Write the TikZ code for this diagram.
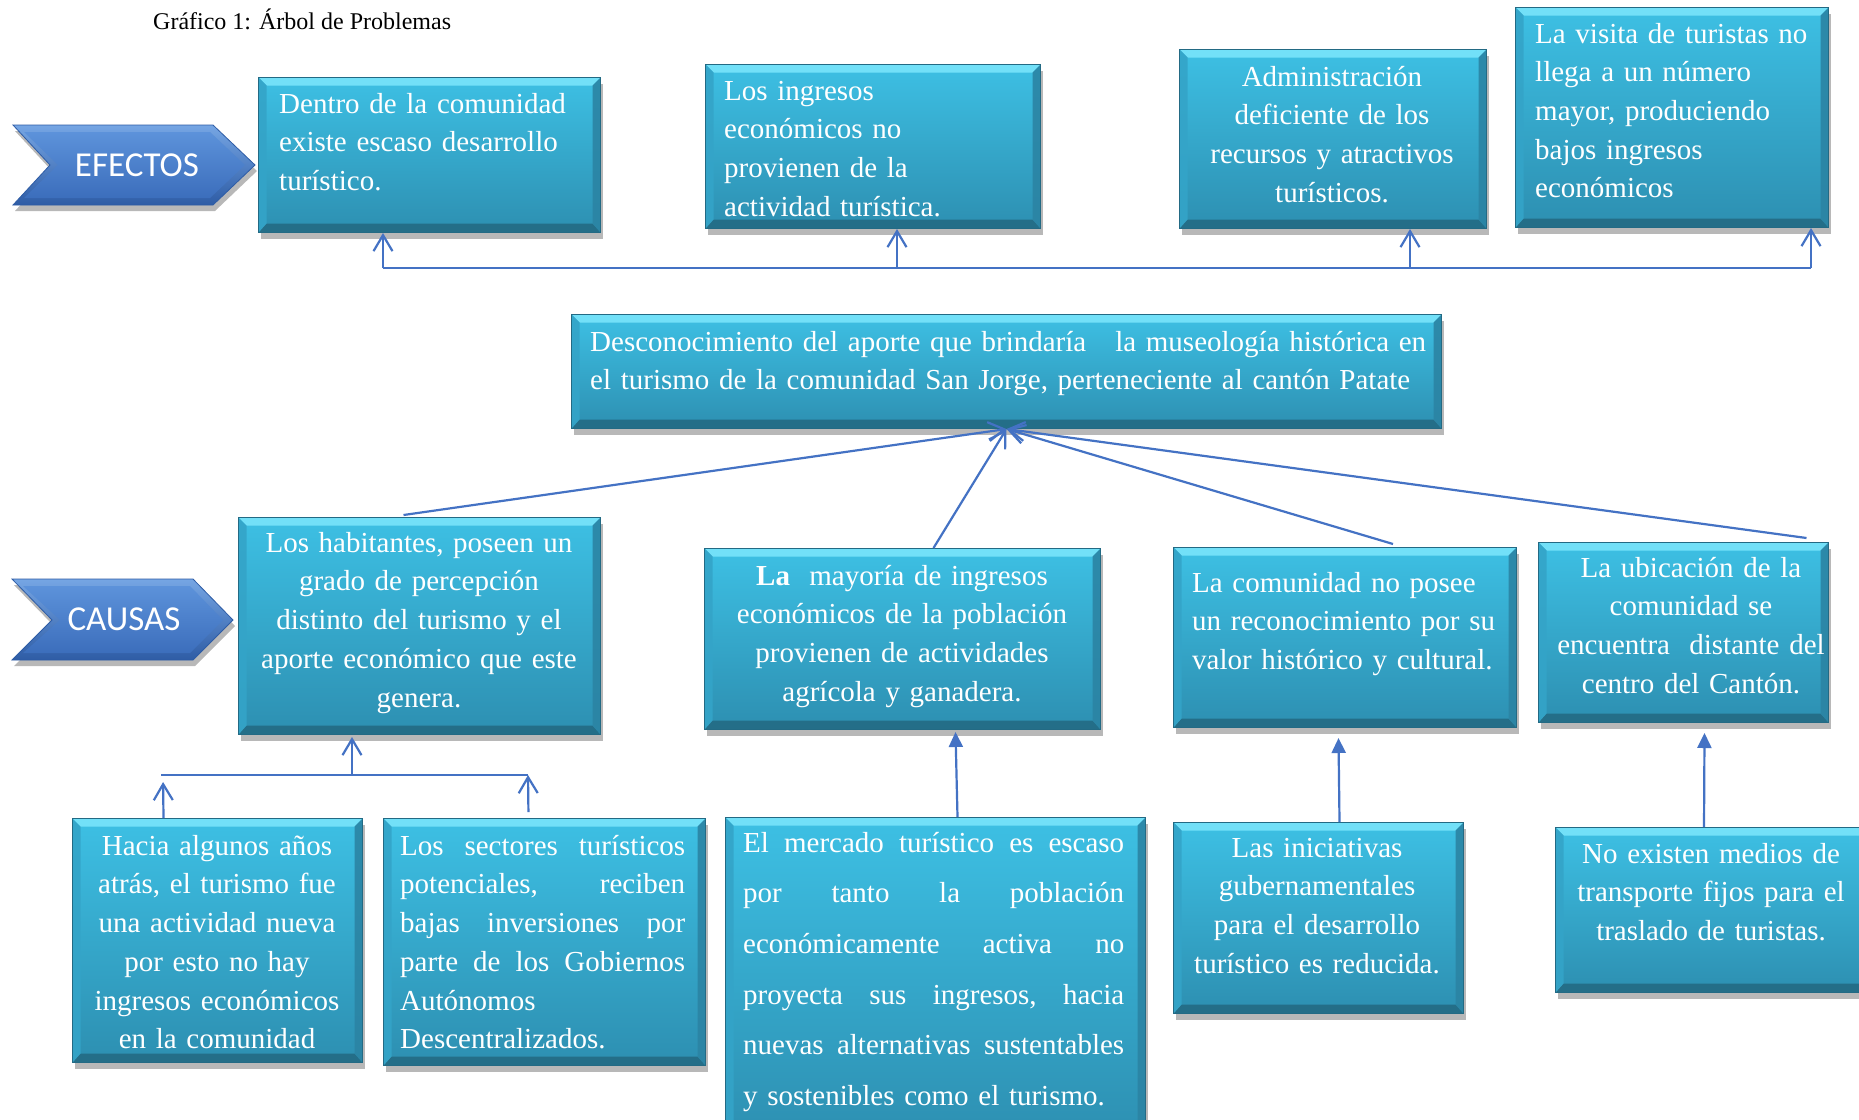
\documentclass[tikz,border=0pt]{standalone}
\usepackage{fontspec}
\setmainfont{Liberation Serif}
\newfontfamily\chevfont{Carlito}
\usetikzlibrary{arrows.meta,shadows,calc}
\definecolor{facetop}{HTML}{3DC0E4}
\definecolor{facebot}{HTML}{2D8FB1}
\definecolor{bevtop}{HTML}{72E0F8}
\definecolor{bevbot}{HTML}{246E88}
\definecolor{bevleft}{HTML}{34A4C8}
\definecolor{bevright}{HTML}{2B84A4}
\definecolor{boxedge}{HTML}{236A84}
\definecolor{connc}{HTML}{4472C4}
\definecolor{chevtop}{HTML}{76A6E4}
\definecolor{chevbot}{HTML}{2E5CA5}
\definecolor{chevfacetop}{HTML}{5C92DA}
\definecolor{chevfacebot}{HTML}{3C6EBC}
\tikzset{
  tbox/.style={rectangle, inner sep=0pt, draw=boxedge, line width=1pt,
    top color=facetop, bottom color=facebot,
    drop shadow={shadow xshift=2pt, shadow yshift=-6pt, opacity=0.28, fill=black},
    path picture={
      \fill[bevtop] (path picture bounding box.north west) -- (path picture bounding box.north east)
        -- ([xshift=-8pt,yshift=-8pt]path picture bounding box.north east)
        -- ([xshift=8pt,yshift=-8pt]path picture bounding box.north west) -- cycle;
      \fill[bevbot] (path picture bounding box.south west) -- (path picture bounding box.south east)
        -- ([xshift=-8pt,yshift=9pt]path picture bounding box.south east)
        -- ([xshift=8pt,yshift=9pt]path picture bounding box.south west) -- cycle;
      \fill[bevleft, opacity=0.9] (path picture bounding box.north west)
        -- ([xshift=8pt,yshift=-8pt]path picture bounding box.north west)
        -- ([xshift=8pt,yshift=9pt]path picture bounding box.south west)
        -- (path picture bounding box.south west) -- cycle;
      \fill[bevright, opacity=0.9] (path picture bounding box.north east)
        -- ([xshift=-8pt,yshift=-8pt]path picture bounding box.north east)
        -- ([xshift=-8pt,yshift=9pt]path picture bounding box.south east)
        -- (path picture bounding box.south east) -- cycle;
    }},
  btxt/.style={text=white, inner sep=0pt, font=\fontsize{29pt}{38.7pt}\selectfont},
  chev/.style={draw=chevbot, line width=0.8pt, top color=chevtop, bottom color=chevbot,
    drop shadow={shadow xshift=2pt, shadow yshift=-6pt, opacity=0.28, fill=black}},
  chevface/.style={top color=chevfacetop, bottom color=chevfacebot},
  chevtxt/.style={text=white, inner sep=0pt, font=\chevfont\fontsize{35pt}{40pt}\selectfont},
  conn/.style={draw=connc, line width=2.2pt},
  openarr/.style={conn, -{Straight Barb[length=16pt,width=19pt]}},
  fillarr/.style={conn, -{Triangle[length=15pt,width=14pt]}},
}
\newcommand\drawbox[5]{\node[tbox, anchor=north west, minimum width={(#4-#2)*1pt}, minimum height={(#5-#3)*1pt}] (#1) at (#2,#3) {};}
\newcommand\jline[2]{\makebox[#1][s]{#2}}
\begin{document}
\begin{tikzpicture}[x=1pt,y=-1pt]
\useasboundingbox (0,0) rectangle (1859,1119);
\fill[white] (0,0) rectangle (1859,1119);
\clip (0,0) rectangle (1859,1119);

% title
\node[anchor=base west, inner sep=0pt, font=\fontsize{24pt}{28pt}\selectfont] (title) at (153,29) {Gráfico 1: Árbol de Problemas};

% chevrons
\path[chev] (13,125) -- (213,125) -- (255,165) -- (213,205) -- (13,205) -- (50,165) -- cycle;
\path[chevface] (24,132) -- (210,132) -- (245,165) -- (210,198) -- (24,198) -- (58,165) -- cycle;
\node[chevtxt] (efectos) at (137,165) {EFECTOS};
\path[chev] (12,579) -- (193,579) -- (233,620) -- (193,660) -- (12,660) -- (52,620) -- cycle;
\path[chevface] (23,586) -- (190,586) -- (223,620) -- (190,653) -- (23,653) -- (60,620) -- cycle;
\node[chevtxt] (causas) at (124,619) {CAUSAS};

% effect boxes
\drawbox{b1}{258}{77}{600}{232}
\drawbox{b2}{705}{64}{1040}{228}
\drawbox{b3}{1179}{49}{1486}{228}
\drawbox{b4}{1515}{7}{1828}{227}
% central problem
\drawbox{top}{571}{314}{1441}{428}
% causes
\drawbox{c1}{238}{517}{600}{734}
\drawbox{c2}{704}{548}{1100}{729}
\drawbox{c3}{1173}{547}{1516}{727}
\drawbox{c4}{1538}{542}{1828}{722}
% sub-causes
\drawbox{d1}{72}{818}{362}{1062}
\drawbox{d2}{383}{818}{705}{1065}
\drawbox{d3}{725}{817}{1145}{1140}
\drawbox{d4}{1173}{822}{1463}{1013}
\drawbox{d5}{1555}{827}{1867}{992}

% texts
\node[btxt, anchor=north west, align=left, text width=320pt] (t1) at (279,85.9)
  {\strut Dentro de la comunidad\\existe escaso desarrollo\\turístico.};
\node[btxt, anchor=north west, align=left, text width=310pt] (t2) at (724,72.9)
  {\strut Los ingresos\\económicos no\\provienen de la\\actividad turística.};
\node[btxt, anchor=north, align=center, text width=300pt] (t3) at (1332,58.9)
  {\strut Administración\\deficiente de los\\recursos y atractivos\\turísticos.};
\node[btxt, anchor=north west, align=left, text width=290pt] (t4) at (1535,15.9)
  {\strut La visita de turistas no\\llega a un número\\mayor, produciendo\\bajos ingresos\\económicos};
\node[btxt, anchor=north west, align=left, text width=860pt, font=\fontsize{29pt}{38pt}\selectfont] (ttop) at (590,324.9)
  {\strut Desconocimiento del aporte que brindaría\ \ \ la museología histórica en\\el turismo de la comunidad San Jorge, perteneciente al cantón Patate};
\node[btxt, anchor=north, align=center, text width=350pt] (tc1) at (419,524.9)
  {\strut Los habitantes, poseen un\\grado de percepción\\distinto del turismo y el\\aporte económico que este\\genera.};
\node[btxt, anchor=north, align=center, text width=390pt] (tc2) at (902,557.9)
  {\strut\textbf{La}\ \ mayoría de ingresos\\económicos de la población\\provienen de actividades\\agrícola y ganadera.};
\node[btxt, anchor=north west, align=left, text width=320pt] (tc3) at (1192,564.9)
  {\strut La comunidad no posee\\un reconocimiento por su\\valor histórico y cultural.};
\node[btxt, anchor=north, align=center, text width=290pt] (tc4) at (1691,549.9)
  {\strut La ubicación de la\\comunidad se\\encuentra\ \ distante del\\centro del Cantón.};
\node[btxt, anchor=north, align=center, text width=290pt] (td1) at (217,827.9)
  {\strut Hacia algunos años\\atrás, el turismo fue\\una actividad nueva\\por esto no hay\\ingresos económicos\\en la comunidad};
\node[btxt, anchor=north west, align=left, text width=290pt] (td2) at (400,827.9)
  {\strut\jline{285pt}{Los\hfill sectores\hfill turísticos}\\\jline{285pt}{potenciales,\hfill reciben}\\\jline{285pt}{bajas\hfill inversiones\hfill por}\\\jline{285pt}{parte\hfill de\hfill los\hfill Gobiernos}\\Autónomos\\Descentralizados.};
\node[btxt, anchor=north west, align=left, text width=390pt, font=\fontsize{29pt}{50.6pt}\selectfont] (td3) at (743,816.6)
  {\strut\jline{381pt}{El\hfill mercado\hfill turístico\hfill es\hfill escaso}\\\jline{381pt}{por\hfill tanto\hfill la\hfill población}\\\jline{381pt}{económicamente\hfill activa\hfill no}\\\jline{381pt}{proyecta\hfill sus\hfill ingresos,\hfill hacia}\\\jline{381pt}{nuevas\hfill alternativas\hfill sustentables}\\y sostenibles como el turismo.};
\node[btxt, anchor=north, align=center, text width=290pt] (td4) at (1317,829.9)
  {\strut Las iniciativas\\gubernamentales\\para el desarrollo\\turístico es reducida.};
\node[btxt, anchor=north, align=center, text width=300pt] (td5) at (1711,835.9)
  {\strut No existen medios de\\transporte fijos para el\\traslado de turistas.};

% effects connectors
\coordinate (e1) at (383,268);
\coordinate (e2) at (897,268);
\coordinate (e3) at (1410,268);
\coordinate (e4) at (1811,268);
\draw[conn] (e1) -- (e4);
\draw[openarr] (e1) -- (e1 |- b1.south);
\draw[openarr] (e2) -- (e2 |- b2.south);
\draw[openarr] (e3) -- (e3 |- b3.south);
\draw[openarr] (e4) -- (e4 |- b4.south);

% causes to central problem
\draw[openarr] ([xshift=-16pt,yshift=2pt]c1.north) -- (top.south);
\draw[openarr] ([xshift=31pt]c2.north) -- (top.south);
\draw[openarr] ([xshift=48pt,yshift=3pt]c3.north) -- (top.south);
\draw[openarr] ([xshift=123pt,yshift=4pt]c4.north) -- (top.south);

% sub-causes
\coordinate (hj) at (352,775);
\coordinate (hl) at (163,775);
\coordinate (hr) at (528,775);
\draw[conn] ([xshift=-2pt]hl) -- (hr);
\draw[openarr, shorten >=2pt] (hj) -- (hj |- c1.south);
\draw[openarr, shorten >=7pt] ([xshift=-54pt]d1.north) -- (hl);
\draw[openarr, shorten <=6pt] ([xshift=-16pt]d2.north) -- (hr);
\draw[fillarr] ([xshift=22pt]d3.north) -- ([xshift=53pt,yshift=-2pt]c2.south);
\draw[fillarr] ([xshift=21pt]d4.north) -- ([xshift=-6.5pt,yshift=-10pt]c3.south);
\draw[fillarr] ([xshift=-7.5pt]d5.north) -- ([xshift=21pt,yshift=-10pt]c4.south);
\end{tikzpicture}
\end{document}
